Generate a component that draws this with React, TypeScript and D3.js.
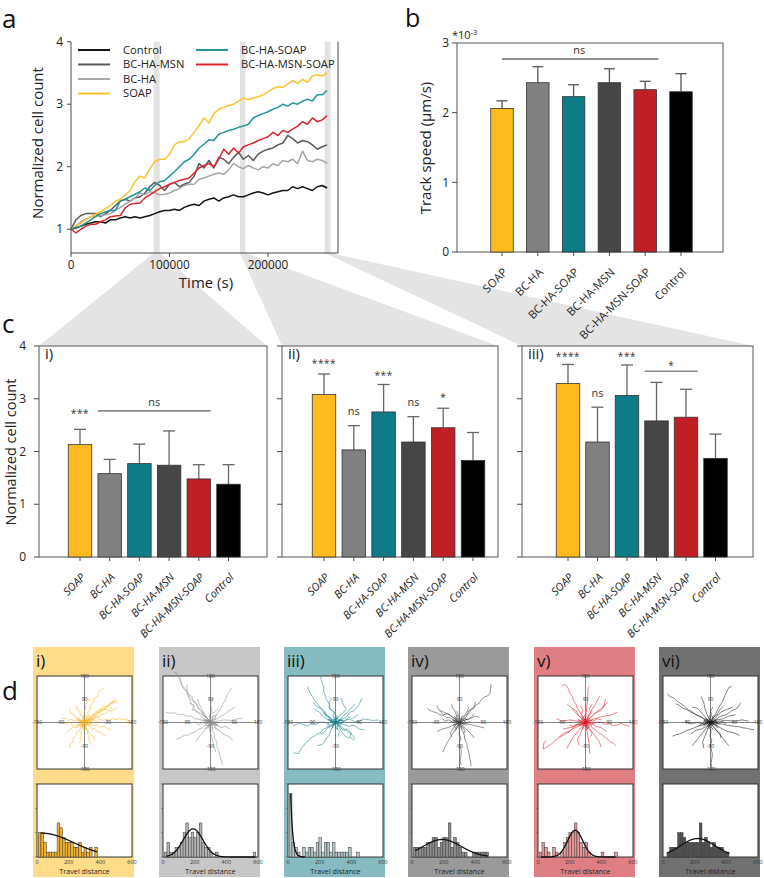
import React from 'react';
import * as d3 from 'd3';

const FONT = "'Open Sans', 'Noto Sans', 'DejaVu Sans', sans-serif";

// ---------------- shared categories ----------------
const GROUPS = ['SOAP', 'BC-HA', 'BC-HA-SOAP', 'BC-HA-MSN', 'BC-HA-MSN-SOAP', 'Control'];
const GROUP_COLORS = ['#FDBB1F', '#808080', '#0E7C86', '#464646', '#C11F26', '#000000'];

// ---------------- panel a : normalized cell count vs time ----------------
const TIME_STEP_S = 5000;
const TIME_TICKS = [0, 100000, 200000];
const COUNT_TICKS_A = [1, 2, 3, 4];
const ZOOM_WINDOWS = [[84000, 90000], [171500, 177000], [257500, 263500]];

const CURVE_CONTROL = [1.00, 1.02, 1.05, 1.08, 1.10, 1.12, 1.12, 1.10, 1.15, 1.15, 1.18, 1.20, 1.18, 1.20, 1.18, 1.20, 1.22, 1.25, 1.28, 1.30, 1.30, 1.32, 1.30, 1.35, 1.38, 1.40, 1.38, 1.45, 1.48, 1.50, 1.45, 1.50, 1.52, 1.55, 1.52, 1.52, 1.55, 1.58, 1.60, 1.58, 1.55, 1.58, 1.60, 1.62, 1.62, 1.68, 1.65, 1.68, 1.65, 1.62, 1.68, 1.70, 1.66];
const CURVE_BCHAMSN = [1.00, 1.15, 1.22, 1.25, 1.25, 1.25, 1.20, 1.25, 1.30, 1.38, 1.45, 1.48, 1.45, 1.50, 1.52, 1.58, 1.68, 1.75, 1.70, 1.62, 1.72, 1.75, 1.68, 1.72, 1.75, 1.85, 2.05, 1.98, 2.10, 1.98, 2.15, 2.12, 2.05, 2.15, 2.23, 2.12, 2.18, 2.10, 2.20, 2.25, 2.28, 2.30, 2.35, 2.38, 2.50, 2.45, 2.38, 2.42, 2.40, 2.35, 2.28, 2.32, 2.35];
const CURVE_BCHA = [1.00, 1.05, 1.12, 1.16, 1.20, 1.21, 1.22, 1.23, 1.25, 1.30, 1.35, 1.40, 1.45, 1.50, 1.58, 1.55, 1.60, 1.58, 1.55, 1.56, 1.58, 1.62, 1.65, 1.70, 1.72, 1.72, 1.80, 1.82, 1.85, 1.88, 1.90, 1.88, 1.95, 2.05, 2.00, 1.97, 2.02, 1.98, 1.95, 2.00, 1.98, 2.05, 2.02, 2.10, 2.08, 2.12, 2.05, 2.25, 2.10, 2.08, 2.12, 2.10, 2.05];
const CURVE_SOAP = [1.00, 1.05, 1.10, 1.15, 1.20, 1.24, 1.28, 1.33, 1.38, 1.45, 1.48, 1.55, 1.62, 1.76, 1.85, 1.82, 1.97, 2.08, 2.12, 2.12, 2.20, 2.35, 2.40, 2.40, 2.45, 2.55, 2.66, 2.78, 2.70, 2.85, 2.92, 2.95, 2.98, 3.00, 3.05, 3.10, 3.07, 3.10, 3.12, 3.15, 3.20, 3.25, 3.28, 3.27, 3.32, 3.38, 3.33, 3.40, 3.35, 3.45, 3.47, 3.45, 3.50];
const CURVE_BCHASOAP = [1.00, 1.03, 1.05, 1.10, 1.15, 1.20, 1.25, 1.28, 1.30, 1.30, 1.45, 1.48, 1.52, 1.56, 1.60, 1.66, 1.62, 1.70, 1.76, 1.78, 1.85, 1.92, 2.00, 2.08, 2.12, 2.20, 2.30, 2.36, 2.43, 2.42, 2.52, 2.55, 2.58, 2.60, 2.63, 2.65, 2.68, 2.78, 2.82, 2.85, 2.88, 2.92, 2.95, 3.00, 2.97, 3.02, 3.00, 3.05, 3.08, 3.05, 3.15, 3.15, 3.22];
const CURVE_BCHAMSNSOAP = [1.00, 0.94, 1.00, 1.05, 1.08, 1.08, 1.12, 1.15, 1.20, 1.21, 1.22, 1.34, 1.40, 1.41, 1.42, 1.50, 1.55, 1.60, 1.65, 1.68, 1.72, 1.75, 1.78, 1.80, 1.82, 1.90, 1.98, 2.02, 2.05, 2.00, 2.12, 2.28, 2.20, 2.30, 2.22, 2.32, 2.35, 2.38, 2.42, 2.45, 2.48, 2.55, 2.50, 2.58, 2.55, 2.60, 2.65, 2.72, 2.68, 2.78, 2.72, 2.75, 2.82];

const SERIES_A = [
  { name: 'Control', color: '#141414', values: CURVE_CONTROL, col: 0, row: 0 },
  { name: 'BC-HA-MSN', color: '#595959', values: CURVE_BCHAMSN, col: 0, row: 1 },
  { name: 'BC-HA', color: '#A6A6A6', values: CURVE_BCHA, col: 0, row: 2 },
  { name: 'SOAP', color: '#FDC22A', values: CURVE_SOAP, col: 0, row: 3 },
  { name: 'BC-HA-SOAP', color: '#24939A', values: CURVE_BCHASOAP, col: 1, row: 0 },
  { name: 'BC-HA-MSN-SOAP', color: '#E0242C', values: CURVE_BCHAMSNSOAP, col: 1, row: 1 },
];

// ---------------- panel b : track speed ----------------
const SPEED_TICKS = [0, 1, 2, 3];
const SPEED_MEAN = [2.06, 2.43, 2.23, 2.43, 2.33, 2.30];
const SPEED_ERR_TOP = [2.17, 2.66, 2.40, 2.63, 2.45, 2.56];
const SPEED_SIG_LEVEL = 2.77;

// ---------------- panel c : normalized cell count at three windows ----------------
const COUNT_TICKS_C = [0, 1, 2, 3, 4];
const COUNT_I_MEAN = [2.13, 1.58, 1.77, 1.74, 1.48, 1.38];
const COUNT_I_TOP = [2.42, 1.85, 2.14, 2.39, 1.75, 1.75];
const COUNT_II_MEAN = [3.08, 2.03, 2.75, 2.18, 2.45, 1.83];
const COUNT_II_TOP = [3.47, 2.49, 3.27, 2.66, 2.82, 2.36];
const COUNT_III_MEAN = [3.29, 2.18, 3.06, 2.58, 2.65, 1.87];
const COUNT_III_TOP = [3.65, 2.84, 3.64, 3.31, 3.18, 2.33];

const SIG_I = [
  { text: '***', bar: 0, y: 2.75 },
  { text: 'ns', from: 1, to: 4, y: 2.77, textY: 2.92 },
];
const SIG_II = [
  { text: '****', bar: 0, y: 3.70 },
  { text: 'ns', bar: 1, y: 2.75 },
  { text: '***', bar: 2, y: 3.47 },
  { text: 'ns', bar: 3, y: 2.92 },
  { text: '*', bar: 4, y: 3.07 },
];
const SIG_III = [
  { text: '****', bar: 0, y: 3.83 },
  { text: 'ns', bar: 1, y: 3.10 },
  { text: '***', bar: 2, y: 3.83 },
  { text: '*', from: 3, to: 4, y: 3.52, textY: 3.67 },
];

// ---------------- panel d : trajectories and travel distance ----------------
const ROSE_TICKS = [-180, -90, 90, 180];
const HIST_TICKS = [0, 200, 400, 600];
const HIST_Y_TICKS = [0, 5, 10, 15];
const BIN_START = 8;
const BIN_WIDTH = 17;

const HIST_I = [5, 5, 3, 1, 1, 1, 1, 7, 6, 4, 3, 3, 3, 2, 2, 3, 1, 2, 1, 2, 0, 2];
const HIST_II = [1, 3, 1, 1, 2, 2, 3, 5, 7, 4, 5, 4, 5, 7, 3, 2, 2, 1, 0, 1, 0, 0, 0, 0, 0, 0, 0, 0, 0, 0, 0, 0, 0, 1];
const HIST_III = [13, 3, 2, 1, 0, 2, 1, 2, 2, 1, 3, 4, 1, 3, 3, 1, 3, 1, 1, 1, 1, 1, 2, 0, 0, 1];
const HIST_IV = [2, 2, 2, 2, 2, 3, 3, 4, 4, 2, 3, 4, 4, 7, 2, 4, 3, 2, 1, 1, 0, 0, 1, 1, 1, 1, 1, 1];
const HIST_V = [1, 3, 2, 1, 0, 2, 1, 0, 1, 3, 4, 5, 5, 7, 5, 3, 2, 3, 1, 0, 0, 0, 0, 1, 0, 0, 0, 0, 1];
const HIST_VI = [0, 1, 2, 2, 2, 5, 5, 4, 3, 3, 3, 3, 3, 7, 3, 4, 3, 2, 3, 2, 2, 2, 1, 1];

// fit: [kind, centre, spread, peak, from, to]
const FIT_I = ['gauss', 30, 200, 4.9, 25, 380];
const FIT_II = ['gauss', 190, 62, 5.8, 20, 585];
const FIT_III = ['exp', 17, 13, 13, 17, 110];
const FIT_IV = ['gauss', 190, 120, 3.6, 20, 480];
const FIT_V = ['gauss', 235, 48, 5.5, 20, 490];
const FIT_VI = ['gauss', 220, 110, 3.8, 30, 420];

const TRACKS_I = [
  '0,0 6,10 14,6 22,18 30,14 38,28 50,30 58,44 70,46 78,60 92,62 100,76 112,80 118,96',
  '0,0 8,10 4,20 15,28 12,42 24,52 22,66 35,78 38,95 50,104 55,118 62,128 75,135',
  '0,0 12,6 20,2 30,9 45,5 55,12 70,8 82,14 95,8 108,15 120,11 135,16 145,10 160,15 162,0 158,-5',
  '0,0 -8,8 -18,4 -30,12 -40,6 -52,12 -62,8 -72,16 -88,16',
  '0,0 -4,-12 -14,-16 -18,-30 -28,-36 -32,-52 -42,-60 -44,-78 -55,-86 -55,-96 -58,-90',
  '0,0 6,-12 2,-22 12,-30 10,-44 18,-52 16,-66 25,-84',
  '0,0 -8,10 -4,22 -16,30 -18,44 -28,50 -32,66',
  '0,0 12,-8 22,-2 34,-12 46,-8 58,-18 72,-14 86,-24 100,-27',
  '0,0 10,14 20,12 30,28 42,30 52,46 64,50 72,64 84,62 94,72 110,85',
  '0,0 -10,-12 -22,-10 -30,-20 -44,-18 -55,-28 -68,-40',
  '0,0 -5,18 5,28 -2,40 6,55 2,68 12,78 20,95',
  '0,0 12,-12 20,-8 30,-25 40,-24 48,-36 62,-38 70,-48 80,-50',
  '0,0 -14,6 -22,18 -34,20 -42,32 -52,36 -56,48 -60,55',
  '0,0 14,12 26,10 38,22 52,20 64,32 78,34 90,44 104,46 120,55',
  '0,0 -8,-14 -4,-26 -14,-36 -12,-50 -18,-60 -10,-65 -20,-80',
  '0,0 16,12 28,22 36,38 50,45 62,52 74,50 90,50 105,60',
  '0,0 -12,-8 -24,-4 -34,-14 -46,-10 -56,2 -66,-4 -75,-5',
  '0,0 10,10 20,5 35,12 45,25 60,20',
  '0,0 -10,-8 -5,-20 10,-25 20,-45 35,-55 38,-70',
  '0,0 18,22 32,24 44,38 60,40 72,50 85,55 92,68 104,74 118,80 130,85',
  '0,0 8,-6 15,2 12,10 20,15',
  '0,0 -6,8 -15,5 -20,15 -25,12',
  '0,0 5,5 -5,10 -10,2 -18,-5',
  '0,0 10,-12 2,-18 -8,-12 -15,-20',
  '0,0 6,4 3,10 10,14 8,20 15,24 12,30',
  '0,0 -4,6 -10,3 -14,10 -20,8 -26,14 -30,10',
  '0,0 4,-6 10,-3 14,-10 20,-8 24,-15',
  '0,0 -5,-4 -3,-10 -10,-14 -8,-20 -14,-26',
  '0,0 8,2 12,-4 18,0 24,-5 30,2 36,-2',
  '0,0 -8,-2 -12,4 -18,2 -22,8 -28,6',
  '0,0 2,8 -4,12 0,18 -5,24 -2,32',
  '0,0 -2,-8 4,-12 2,-18 8,-22 6,-30',
  '0,0 6,6 12,4 16,10 22,8 26,14 32,12 38,18',
  '0,0 -6,-6 -12,-4 -16,-10 -22,-8 -26,-16',
];
const TRACKS_II = [
  '0,0 -10,15 -22,22 -30,40 -42,50 -50,70 -62,78 -70,100 -84,110 -95,130 -106,140 -115,160 -120,172 -125,185 -135,195 -128,192',
  '0,0 -15,20 -26,26 -35,45 -48,56 -55,75 -66,82 -75,95 -84,108 -90,120 -102,130 -110,145 -112,165 -118,182',
  '0,0 -20,10 -40,30 -60,50 -75,80 -88,110 -90,148',
  '0,0 -14,10 -25,5 -40,12 -60,15 -72,24 -90,25 -104,32 -120,30 -136,38 -150,35 -170,40',
  '0,0 -12,-12 -20,-10 -32,-22 -45,-25 -58,-36 -70,-40 -84,-48 -100,-50 -116,-60 -130,-65',
  '0,0 8,-16 5,-30 14,-44 15,-60 24,-76 25,-95 32,-112 35,-130 42,-148 45,-165',
  '0,0 -5,-25 5,-55 10,-80 20,-115',
  '0,0 25,5 50,10 80,8 100,14 120,16',
  '0,0 12,14 20,25 28,38 40,55 46,70 55,85 60,98 65,110 74,122 80,135',
  '0,0 25,15 50,30 70,45 94,60',
  '0,0 -15,20 -30,45 -42,70 -50,91',
  '0,0 -20,25 -45,40 -70,50 -60,65 -80,75',
  '0,0 15,-15 30,-30 50,-45 70,-55 85,-70',
  '0,0 -10,-15 -25,-35 -40,-50 -55,-75',
  '0,0 20,-5 40,-20 55,-15 75,-25',
  '0,0 -5,20 5,45 0,70 10,95',
  '0,0 10,15 -5,30 15,40 30,55',
  '0,0 -15,-5 -30,0 -45,-10 -60,5',
  '0,0 8,-10 20,-5 15,-20 30,-30',
  '0,0 -10,8 -20,-5 -10,-15 -25,-25',
  '0,0 12,8 20,18 10,25 25,30',
  '0,0 5,-8 -8,-12 -12,-2 -20,5',
  '0,0 5,6 2,12 9,15 6,22 12,28',
  '0,0 -6,4 -12,1 -15,8 -22,6 -25,12',
  '0,0 6,-4 11,-1 15,-8 21,-6 23,-13 28,-10',
  '0,0 -4,-5 -2,-11 -9,-13 -7,-19 -13,-24',
  '0,0 7,1 10,-5 17,-2 22,-7 28,-1',
  '0,0 -7,-1 -11,5 -17,3 -20,9 -27,7 -31,12',
  '0,0 3,7 -3,11 1,17 -4,22 -1,28',
  '0,0 -1,-7 5,-11 3,-17 9,-20 7,-27',
  '0,0 -5,7 -10,5 -14,11 -20,9 -24,15',
  '0,0 5,-6 11,-4 15,-10 20,-8 25,-14',
];
const TRACKS_III = [
  '0,0 -12,-10 -20,-10 -32,-20 -45,-25 -56,-38 -70,-45 -82,-54 -95,-60 -104,-72 -115,-80 -122,-92 -130,-100 -140,-120 -158,-118',
  '0,0 -12,12 -20,15 -30,28 -40,35 -48,50 -60,60 -68,74 -80,85 -86,98 -95,110 -100,124 -106,135 -100,140',
  '0,0 -10,25 -4,38 -25,55 -22,70 -35,90 -38,104 -45,120 -44,136 -50,150 -56,175 -50,180',
  '0,0 16,8 30,5 44,12 60,10 74,2 90,5 104,14 120,12 140,8 162,10',
  '0,0 20,-15 40,-30 60,-45 75,-65',
  '0,0 -16,4 -30,-5 -44,2 -60,0 -76,-8 -90,-5 -104,-12 -120,-10 -136,-2 -150,-8 -162,-12',
  '0,0 20,15 40,35 55,50 75,72',
  '0,0 15,-20 25,-40 40,-55 55,-60',
  '0,0 -15,-25 -25,-50 -40,-70 -50,-85 -70,-90',
  '0,0 10,20 25,35 40,50 30,70 20,95',
  '0,0 -25,10 -45,20 -60,40 -80,50',
  '0,0 25,-5 50,-15 70,-10 90,-25 110,-30',
  '0,0 -10,-15 -30,-20 -45,-40 -60,-45',
  '0,0 5,20 -5,40 -20,55 -25,75 -15,95',
  '0,0 15,10 35,5 50,20 65,15 85,30',
  '0,0 -15,5 -20,20 -35,25 -40,45',
  '0,0 10,-10 5,-25 15,-35 10,-55',
  '0,0 -8,10 8,15 15,5 25,12',
  '0,0 -10,-8 -15,5 -25,-3 -30,-15',
  '0,0 40,20 55,40 70,45 90,70 100,95',
  '0,0 -40,30 -55,55 -70,60 -85,80',
  '0,0 30,-30 45,-25 60,-40 55,-55 70,-70',
  '0,0 4,7 1,13 8,16 5,23 11,27',
  '0,0 -5,5 -11,2 -14,9 -21,7 -24,13 -30,11',
  '0,0 5,-5 10,-2 13,-9 19,-7 22,-14',
  '0,0 -6,-3 -4,-9 -11,-12 -9,-19 -15,-22',
  '0,0 7,3 11,-3 17,1 23,-4 29,2',
  '0,0 -8,-1 -13,5 -19,3 -23,10 -29,8',
  '0,0 1,8 -5,12 -1,19 -6,24',
  '0,0 -3,-7 3,-12 1,-19 7,-23 5,-29',
  '0,0 5,5 11,3 15,9 21,7 25,13',
  '0,0 -5,-7 -11,-5 -15,-11 -21,-9 -24,-17',
  '0,0 9,-3 14,3 20,-1 26,5 33,3',
];
const TRACKS_IV = [
  '0,0 8,12 15,15 24,28 35,35 42,48 55,55 62,68 75,75 84,90 95,100 104,102 115,110 118,130 120,150',
  '0,0 -14,8 -25,10 -36,18 -50,20 -62,28 -75,30 -86,38 -95,40 -106,44 -115,47 -120,55',
  '0,0 -15,-25 -30,-50 -45,-75 -55,-95 -63,-115',
  '0,0 -4,-15 0,-30 -2,-45 5,-60 0,-78 3,-95 7,-112 5,-130 2,-148 6,-165',
  '0,0 8,-14 10,-30 18,-46 20,-65 28,-82 30,-100 36,-118 38,-135 42,-152 44,-170',
  '0,0 25,-5 50,-10 70,-15 94,-21',
  '0,0 10,15 20,30 30,45 35,60',
  '0,0 -20,15 -40,30 -60,40 -80,50 -85,65',
  '0,0 -25,-10 -45,-20 -65,-25 -85,-35',
  '0,0 20,10 40,15 60,25 75,20',
  '0,0 -10,20 -15,40 -25,55 -30,70',
  '0,0 15,-15 30,-30 45,-45 55,-60',
  '0,0 -15,-10 -25,-25 -35,-40 -30,-55',
  '0,0 10,5 20,15 30,10 45,20 55,35',
  '0,0 -10,5 -25,0 -40,10 -55,5 -65,15',
  '0,0 5,-15 15,-20 20,-35 15,-45',
  '0,0 -8,8 -15,20 -5,30 -10,45',
  '0,0 12,-5 20,5 30,-3 40,5',
  '0,0 -12,-5 -20,-15 -10,-25 -20,-35',
  '0,0 8,12 -2,18 -12,12 -20,25',
  '0,0 25,20 35,45 55,60 60,80',
  '0,0 -30,25 -45,35 -60,30 -75,45',
  '0,0 5,5 2,11 9,14 7,21 13,25',
  '0,0 -5,6 -11,3 -15,9 -21,7 -25,13',
  '0,0 5,-5 11,-2 14,-9 20,-7 25,-13',
  '0,0 -4,-5 -2,-11 -9,-14 -7,-20 -12,-25',
  '0,0 8,1 11,-5 18,-1 23,-6 29,0',
  '0,0 -8,-2 -11,4 -17,2 -21,9 -27,7',
  '0,0 2,7 -4,12 0,17 -5,23 -1,29',
  '0,0 -2,-7 4,-11 2,-17 8,-21 5,-28',
  '0,0 6,5 11,3 16,9 21,7 25,13 31,11',
  '0,0 -6,-5 -12,-3 -15,-9 -21,-7 -25,-14',
  '0,0 -9,4 -14,-1 -20,4 -26,0 -32,5',
];
const TRACKS_V = [
  '0,0 -14,-6 -25,-15 -40,-20 -55,-30 -70,-42 -85,-50 -100,-58 -115,-70 -128,-82 -140,-90 -152,-98 -160,-103 -158,-80 -150,-70',
  '0,0 -6,14 -15,25 -20,40 -30,55 -36,70 -45,85 -50,100 -60,115 -64,128 -70,140 -78,148 -90,140',
  '0,0 14,4 30,-5 46,2 60,0 76,-8 90,-5 106,-12 120,-10 134,-2 145,-8 166,-15',
  '0,0 20,20 40,40 60,55 85,79',
  '0,0 14,-8 25,-20 38,-28 50,-40 64,-48 75,-60 86,-66 95,-75 106,-80 116,-90',
  '0,0 5,-30 10,-60 15,-90 16,-121',
  '0,0 2,30 5,60 8,95 10,135 15,140',
  '0,0 10,25 25,50 40,75 54,104',
  '0,0 -30,5 -60,10 -90,5 -110,15',
  '0,0 -25,-30 -45,-55 -60,-80 -70,-100',
  '0,0 25,10 50,20 75,25 100,30 120,40',
  '0,0 -20,20 -40,40 -55,60 -70,70',
  '0,0 15,-25 35,-50 50,-70 60,-95',
  '0,0 -10,-20 -20,-45 -30,-65 -25,-90',
  '0,0 20,-5 40,-15 60,-20 80,-35',
  '0,0 -20,-5 -40,-15 -60,-20 -85,-25',
  '0,0 10,15 20,35 15,55 25,70',
  '0,0 -10,15 -25,25 -35,45 -50,55',
  '0,0 15,10 30,5 45,15 60,10',
  '0,0 -15,-10 -30,-5 -45,-15 -60,-10',
  '0,0 5,-15 15,-25 25,-40 20,-55',
  '0,0 -5,15 -15,30 -10,50 -20,65',
  '0,0 -10,-5 -5,-15 10,-10 15,-20',
  '0,0 8,8 -5,12 -12,5 -15,15',
  '0,0 35,35 55,45 70,60 75,90',
  '0,0 -40,-10 -60,-35 -80,-40 -100,-55',
  '0,0 5,6 3,12 10,15 7,22 13,27',
  '0,0 -5,5 -10,2 -15,9 -21,6 -26,13',
  '0,0 5,-6 10,-3 15,-10 20,-7 24,-14',
  '0,0 -5,-5 -3,-11 -10,-13 -8,-20 -14,-25',
  '0,0 8,2 12,-4 18,0 24,-6 31,0',
  '0,0 -8,-1 -12,5 -18,2 -22,9 -29,6',
  '0,0 2,8 -3,12 1,18 -4,24 -1,31',
  '0,0 -2,-8 4,-12 2,-19 8,-23 6,-30',
  '0,0 6,6 12,3 16,10 22,8 27,15',
  '0,0 -6,-6 -12,-4 -16,-11 -22,-8 -27,-15',
  '0,0 -7,7 -3,13 -10,17 -7,24',
  '0,0 7,-7 4,-13 11,-17 8,-24',
];
const TRACKS_VI = [
  '0,0 -12,10 -25,15 -40,24 -55,30 -70,42 -85,50 -100,64 -115,75 -128,84 -140,95 -152,100 -163,110',
  '0,0 -10,8 -20,10 -32,20 -45,25 -60,34 -75,40 -90,50 -105,55 -118,66 -131,73',
  '0,0 15,25 30,55 45,80 55,105 69,135 80,140',
  '0,0 16,2 30,-5 46,-6 60,-10 76,-12 90,-15 106,-16 120,-20 134,-22 145,-25 165,-28',
  '0,0 30,5 60,8 90,5 120,10 145,5',
  '0,0 -4,-18 2,-35 -2,-52 5,-70 0,-88 3,-105 7,-122 5,-140 2,-158 6,-175',
  '0,0 -15,-20 -30,-40 -50,-65 -69,-90',
  '0,0 15,-20 30,-40 50,-65 69,-90',
  '0,0 -16,-2 -30,-10 -46,-14 -60,-20 -76,-26 -90,-30 -106,-40 -120,-45 -132,-48 -144,-53',
  '0,0 -10,25 -20,50 -25,75 -35,100',
  '0,0 20,20 40,40 60,50 85,60',
  '0,0 -25,-5 -50,0 -75,-5 -95,5',
  '0,0 20,-10 45,-25 65,-35 90,-40 110,-50',
  '0,0 -10,-25 -20,-50 -30,-75 -25,-100',
  '0,0 10,20 25,30 35,50 50,65',
  '0,0 -20,20 -35,40 -50,55 -70,60',
  '0,0 25,10 50,15 70,25 95,30',
  '0,0 -15,-15 -35,-25 -55,-30 -75,-45',
  '0,0 10,-15 20,-30 35,-40 40,-60',
  '0,0 -5,15 5,30 0,45 10,60',
  '0,0 15,5 30,-5 45,5 60,-5',
  '0,0 -12,5 -20,-8 -35,-5 -45,-15',
  '0,0 5,-10 15,-5 20,-15 30,-20',
  '0,0 -8,-8 -15,0 -8,10 -18,15',
  '0,0 40,25 60,30 80,45 100,55 115,75',
  '0,0 5,6 2,12 9,16 6,22 12,27',
  '0,0 -5,5 -11,2 -14,9 -21,6 -25,13',
  '0,0 5,-5 11,-2 14,-9 20,-6 24,-13',
  '0,0 -5,-5 -2,-11 -10,-13 -7,-20 -13,-25',
  '0,0 8,2 12,-4 18,1 24,-5 30,1',
  '0,0 -8,-2 -12,4 -18,1 -22,8 -28,5',
  '0,0 2,8 -4,12 1,18 -4,23 -1,30',
  '0,0 -2,-8 4,-12 2,-18 8,-22 5,-29',
  '0,0 6,6 11,3 16,10 21,7 26,14',
  '0,0 -6,-6 -12,-3 -16,-10 -21,-8 -26,-15',
  '0,0 -9,5 -14,0 -20,5 -27,1',
  '0,0 9,-5 14,0 20,-5 27,-1',
];

const D_LABELS = ['i)', 'ii)', 'iii)', 'iv)', 'v)', 'vi)'];
const D_BACKGROUNDS = ['#FEDC8A', '#C7C7C7', '#86BCC1', '#9A9A9A', '#E07F83', '#717171'];
const D_TRACK_COLORS = ['#F5B31A', '#8A8A8A', '#137F89', '#3A3A3A', '#E0161F', '#151515'];
const D_HIST_FILLS = ['#F2B126', '#B3B3B3', '#B0C6C8', '#8C8C8C', '#EA9498', '#505050'];
const D_TRACKS = [TRACKS_I, TRACKS_II, TRACKS_III, TRACKS_IV, TRACKS_V, TRACKS_VI];
const D_HISTS = [HIST_I, HIST_II, HIST_III, HIST_IV, HIST_V, HIST_VI];
const D_FITS = [FIT_I, FIT_II, FIT_III, FIT_IV, FIT_V, FIT_VI];

function parseTrack(s: string): [number, number][] {
  return s.trim().split(/\s+/).map((p) => p.split(',').map(Number) as [number, number]);
}

const AX = '#4a4a4a';

function PanelA() {
  const x = d3.scaleLinear().domain([0, 271000]).range([71, 338]);
  const y = d3.scaleLinear().domain([0.62, 4]).range([253, 41.7]);
  const line = d3.line<number>().x((_, i) => x(i * TIME_STEP_S)).y((v) => y(v));
  const legendX = [78, 196];
  const legendRowY = [50, 64.5, 79, 93.5];
  return (
    <g>
      {ZOOM_WINDOWS.map((w, i) => (
        <rect key={i} x={x(w[0])} y={y(4)} width={x(w[1]) - x(w[0])} height={y(0.62) - y(4)} fill="#E2E2E2" />
      ))}
      {SERIES_A.map((s) => (
        <path key={s.name} d={line(s.values) || ''} fill="none" stroke={s.color} strokeWidth={1.5} strokeLinejoin="round" />
      ))}
      <line x1={x(0)} x2={x(0)} y1={y(4)} y2={y(0.62)} stroke={AX} strokeWidth={1} />
      <line x1={x(0)} x2={x(271000)} y1={y(0.62)} y2={y(0.62)} stroke={AX} strokeWidth={1} />
      <line x1={x(271000)} x2={x(271000)} y1={y(4)} y2={y(0.62)} stroke={AX} strokeWidth={1} />
      {COUNT_TICKS_A.map((t) => (
        <g key={t}>
          <line x1={x(0) - 4} x2={x(0)} y1={y(t)} y2={y(t)} stroke={AX} />
          <text x={x(0) - 8} y={y(t)} dy="0.35em" textAnchor="end" fontSize={12} fill="#222">{t}</text>
        </g>
      ))}
      {TIME_TICKS.map((t) => (
        <g key={t}>
          <line x1={x(t)} x2={x(t)} y1={y(0.62)} y2={y(0.62) + 4} stroke={AX} />
          <text x={x(t)} y={269} textAnchor="middle" fontSize={11.8} fill="#222">{t}</text>
        </g>
      ))}
      <text x={206} y={288} textAnchor="middle" fontSize={15} fill="#222">Time (s)</text>
      <text transform="translate(43,143) rotate(-90)" textAnchor="middle" fontSize={15} fill="#222">Normalized cell count</text>
      {SERIES_A.map((s) => (
        <g key={'lg' + s.name}>
          <line x1={legendX[s.col]} x2={legendX[s.col] + 32} y1={legendRowY[s.row]} y2={legendRowY[s.row]} stroke={s.color} strokeWidth={2} />
          <text x={legendX[s.col] + 45} y={legendRowY[s.row]} dy="0.35em" fontSize={11.2} fill="#222">{s.name}</text>
        </g>
      ))}
    </g>
  );
}

function PanelB() {
  const x = d3.scalePoint<string>().domain(GROUPS).range([502, 681]);
  const y = d3.scaleLinear().domain([0, 3]).range([252, 43]);
  const bw = 22.5;
  const left = 457, right = 723;
  return (
    <g>
      <rect x={left} y={y(3)} width={right - left} height={y(0) - y(3)} fill="none" stroke="#555" strokeWidth={1} />
      {GROUPS.map((g, i) => (
        <g key={g}>
          <line x1={x(g)} x2={x(g)} y1={y(SPEED_MEAN[i])} y2={y(SPEED_ERR_TOP[i])} stroke="#555" strokeWidth={1.3} />
          <line x1={x(g)! - 5.5} x2={x(g)! + 5.5} y1={y(SPEED_ERR_TOP[i])} y2={y(SPEED_ERR_TOP[i])} stroke="#555" strokeWidth={1.3} />
          <rect x={x(g)! - bw / 2} y={y(SPEED_MEAN[i])} width={bw} height={y(0) - y(SPEED_MEAN[i])} fill={GROUP_COLORS[i]} stroke="#333" strokeWidth={0.8} />
          <line x1={x(g)} x2={x(g)} y1={y(0)} y2={y(0) + 4} stroke={AX} />
          <text transform={`translate(${x(g)! + 6},${y(0) + 21}) rotate(-45)`} textAnchor="end" fontSize={11.3} fill="#222">{g}</text>
        </g>
      ))}
      {SPEED_TICKS.map((t) => (
        <g key={t}>
          <line x1={left - 5} x2={left} y1={y(t)} y2={y(t)} stroke={AX} />
          <text x={left - 8} y={y(t)} dy="0.35em" textAnchor="end" fontSize={12} fill="#222">{t}</text>
        </g>
      ))}
      <line x1={x('SOAP')} x2={x('BC-HA-MSN-SOAP')! + bw / 2 + 2} y1={y(SPEED_SIG_LEVEL)} y2={y(SPEED_SIG_LEVEL)} stroke="#222" strokeWidth={1} />
      <text x={(x('SOAP')! + x('BC-HA-MSN-SOAP')! + bw / 2) / 2} y={y(SPEED_SIG_LEVEL) - 5} textAnchor="middle" fontSize={11} fill="#333">ns</text>
      <text x={452} y={39} fontSize={11} fill="#222">*10<tspan dy={-4} fontSize={7.5}>-3</tspan></text>
      <text transform="translate(431,148) rotate(-90)" textAnchor="middle" fontSize={15} fill="#222">Track speed (µm/s)</text>
    </g>
  );
}

function PanelC() {
  const y = d3.scaleLinear().domain([0, 4]).range([557, 346]);
  const boxes = [
    { left: 39, right: 267, c0: 80, c1: 228.5, label: 'i)', means: COUNT_I_MEAN, tops: COUNT_I_TOP, sig: SIG_I as any[] },
    { left: 282, right: 498, c0: 324, c1: 473, label: 'ii)', means: COUNT_II_MEAN, tops: COUNT_II_TOP, sig: SIG_II as any[] },
    { left: 522, right: 753, c0: 568, c1: 715.5, label: 'iii)', means: COUNT_III_MEAN, tops: COUNT_III_TOP, sig: SIG_III as any[] },
  ];
  const bw = 23.5;
  return (
    <g>
      {boxes.map((b, bi) => {
        const x = d3.scalePoint<string>().domain(GROUPS).range([b.c0, b.c1]);
        return (
          <g key={bi}>
            <rect x={b.left} y={y(4)} width={b.right - b.left} height={y(0) - y(4)} fill="none" stroke="#555" strokeWidth={1} />
            {COUNT_TICKS_C.map((t) => (
              <g key={t}>
                <line x1={b.left - 5} x2={b.left} y1={y(t)} y2={y(t)} stroke={AX} />
                {bi === 0 && <text x={b.left - 13} y={y(t)} dy="0.35em" textAnchor="end" fontSize={12} fill="#222">{t}</text>}
              </g>
            ))}
            {GROUPS.map((g, i) => (
              <g key={g}>
                <line x1={x(g)} x2={x(g)} y1={y(b.means[i])} y2={y(b.tops[i])} stroke="#666" strokeWidth={1.3} />
                <line x1={x(g)! - 6} x2={x(g)! + 6} y1={y(b.tops[i])} y2={y(b.tops[i])} stroke="#666" strokeWidth={1.3} />
                <rect x={x(g)! - bw / 2} y={y(b.means[i])} width={bw} height={y(0) - y(b.means[i])} fill={GROUP_COLORS[i]} stroke="#333" strokeWidth={0.8} />
                <line x1={x(g)} x2={x(g)} y1={y(0)} y2={y(0) + 4} stroke={AX} />
                <text transform={`translate(${x(g)! + 6},${y(0) + 21}) rotate(-45)`} textAnchor="end" fontSize={11} fontStyle="italic" fill="#222">{g}</text>
              </g>
            ))}
            {b.sig.map((s, si) => {
              const isStar = s.text.startsWith('*');
              const fs = isStar ? 10 : 11;
              const off = isStar ? 5.5 : 3.2;
              if (s.from !== undefined) {
                const x1 = x(GROUPS[s.from])! - bw / 2;
                const x2 = x(GROUPS[s.to])! + bw / 2;
                return (
                  <g key={si}>
                    <line x1={x1} x2={x2} y1={y(s.y)} y2={y(s.y)} stroke="#8a8a8a" strokeWidth={1.6} />
                    <text x={(x1 + x2) / 2} y={y(s.textY) + off} textAnchor="middle" fontSize={fs} fill="#333" letterSpacing={isStar ? 0.6 : 0}>{s.text}</text>
                  </g>
                );
              }
              return (
                <text key={si} x={x(GROUPS[s.bar])} y={y(s.y) + off} textAnchor="middle" fontSize={fs} fill="#333" letterSpacing={isStar ? 0.6 : 0}>{s.text}</text>
              );
            })}
            <text x={b.left + 6} y={359} fontSize={15} fill="#222">{b.label}</text>
          </g>
        );
      })}
      <text transform="translate(15.5,452) rotate(-90)" textAnchor="middle" fontSize={14.5} fill="#222">Normalized cell count</text>
    </g>
  );
}

function PanelD() {
  const X0 = [33, 159, 284, 408, 534, 659];
  const pw = 101;
  return (
    <g>
      {X0.map((x0, k) => {
        const bl = x0 + 4, br = x0 + 99;
        const rx = d3.scaleLinear().domain([-180, 180]).range([bl, br]);
        const ry = d3.scaleLinear().domain([-180, 180]).range([769, 676]);
        const hx = d3.scaleLinear().domain([0, 600]).range([bl, br]);
        const hy = d3.scaleLinear().domain([0, 15]).range([857, 784]);
        const tl = d3.line<[number, number]>().x((p) => rx(p[0])).y((p) => ry(p[1]));
        const fit = D_FITS[k] as any[];
        const [kind, c, s, peak, from, to] = fit;
        const fx = d3.range(from, to + 0.1, 2);
        const fy = fx.map((v: number) => (kind === 'gauss' ? peak * Math.exp(-((v - c) * (v - c)) / (2 * s * s)) : peak * Math.exp(-(v - c) / s)));
        const fitPath = d3.line<number>().x((v) => hx(v)).y((_, i) => hy(fy[i])).curve(d3.curveBasis)(fx) || '';
        return (
          <g key={k}>
            <rect x={x0} y={647} width={pw} height={230} fill={D_BACKGROUNDS[k]} />
            <text x={x0 + 3} y={667} fontSize={17} fill="#111">{D_LABELS[k]}</text>
            <rect x={bl} y={676} width={95} height={93} fill="#fff" stroke="#333" strokeWidth={1} />
            <line x1={rx(0)} x2={rx(0)} y1={676} y2={769} stroke="#666" strokeWidth={0.8} />
            <line x1={bl} x2={br} y1={ry(0)} y2={ry(0)} stroke="#666" strokeWidth={0.8} />
            {D_TRACKS[k].map((t, i) => (
              <path key={i} d={tl(parseTrack(t)) || ''} fill="none" stroke={D_TRACK_COLORS[k]} strokeWidth={0.6} strokeOpacity={0.9} strokeLinejoin="round" />
            ))}
            {ROSE_TICKS.map((t) => (
              <g key={t}>
                <text x={rx(t)} y={ry(0)} dy="0.35em" textAnchor="middle" fontSize={5} fill="#333">{t}</text>
                <text x={rx(0)} y={ry(t)} dy="0.35em" textAnchor="middle" fontSize={5} fill="#333">{t}</text>
              </g>
            ))}
            <rect x={bl} y={784} width={95} height={73} fill="#fff" stroke="#333" strokeWidth={1} />
            {D_HISTS[k].map((n, i) => (
              n > 0 ? (
                <rect key={i} x={hx(BIN_START + i * BIN_WIDTH)} y={hy(n)} width={hx(BIN_WIDTH) - hx(0)} height={hy(0) - hy(n)} fill={D_HIST_FILLS[k]} stroke="#3a3a3a" strokeWidth={0.5} />
              ) : null
            ))}
            <path d={fitPath} fill="none" stroke="#111" strokeWidth={1.3} />
            {HIST_Y_TICKS.map((t) => (
              <line key={t} x1={bl - 2} x2={bl} y1={hy(t)} y2={hy(t)} stroke="#555" strokeWidth={0.6} />
            ))}
            {HIST_TICKS.map((t) => (
              <text key={t} x={hx(t)} y={864} textAnchor="middle" fontSize={5.5} fill="#333">{t}</text>
            ))}
            <text x={(bl + br) / 2} y={874} textAnchor="middle" fontSize={7.2} fill="#222">Travel distance</text>
          </g>
        );
      })}
    </g>
  );
}

function Connectors() {
  const x = d3.scaleLinear().domain([0, 271000]).range([71, 338]);
  const boxes = [[39, 267], [282, 498], [522, 753]];
  return (
    <g>
      {ZOOM_WINDOWS.map((w, i) => (
        <polygon key={i} points={`${x(w[0])},253 ${x(w[1])},253 ${boxes[i][1]},346 ${boxes[i][0]},346`} fill="#E4E4E4" />
      ))}
    </g>
  );
}

export default function App() {
  return (
    <svg width={764} height={878} viewBox="0 0 764 878" fontFamily={FONT} style={{ position: 'absolute', left: 0, top: 0, background: '#fff' }}>
      <rect x={0} y={0} width={764} height={878} fill="#fff" />
      <Connectors />
      <PanelA />
      <PanelB />
      <PanelC />
      <PanelD />
      <text x={2} y={28} fontSize={26} fill="#111">a</text>
      <text x={405} y={27} fontSize={25} fill="#111">b</text>
      <text x={2} y={333} fontSize={26} fill="#111">c</text>
      <text x={2} y={700} fontSize={26} fill="#111">d</text>
    </svg>
  );
}
